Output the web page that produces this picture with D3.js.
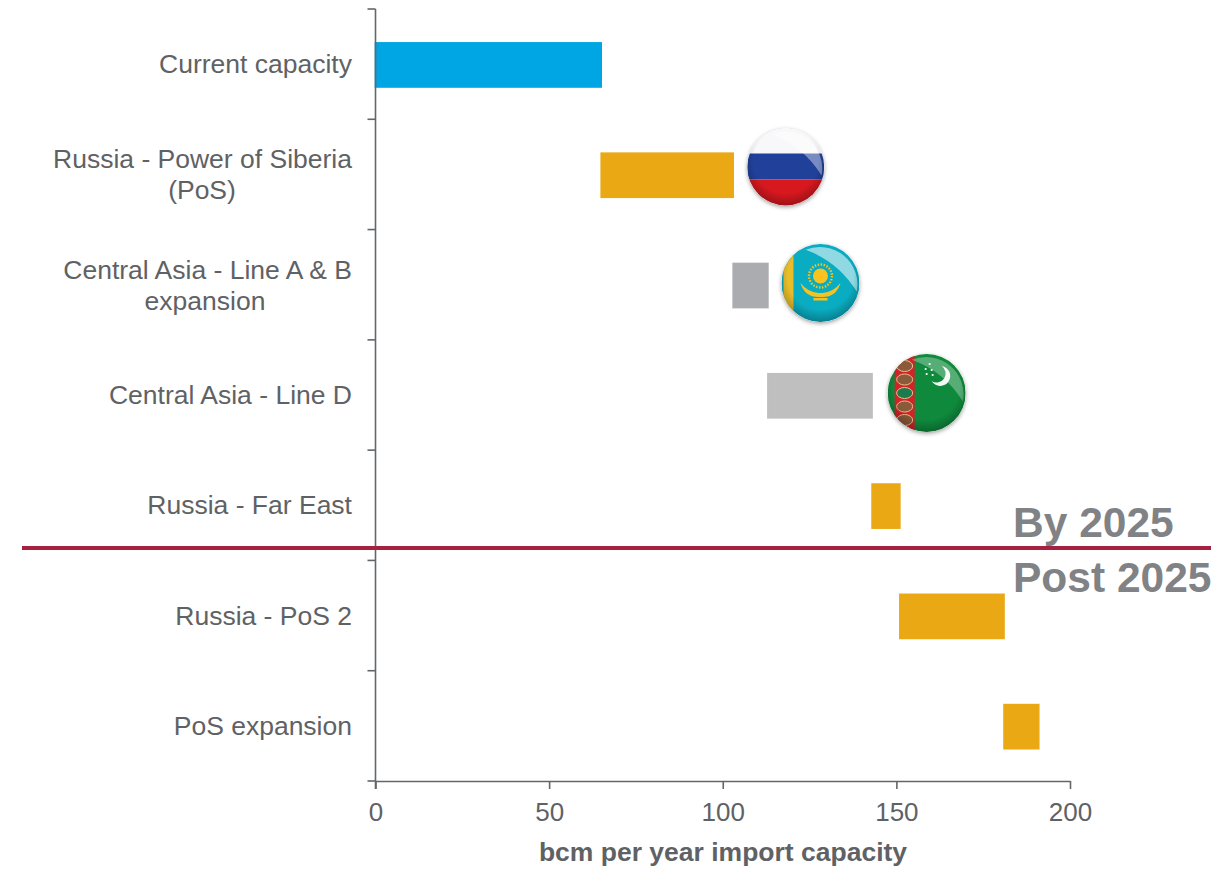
<!DOCTYPE html>
<html>
<head>
<meta charset="utf-8">
<style>
    html, body { margin: 0; padding: 0; background: #fff; }
    text { font-family: "Liberation Sans", Arial, sans-serif; }
</style>
</head>
<body>
<div id="chart"></div>
<script src="https://d3js.org/d3.v7.min.js"></script>
<script>
    const categories = [
        "Current capacity",
        "Russia - Power of Siberia (PoS)",
        "Central Asia - Line A & B expansion",
        "Central Asia - Line D",
        "Russia - Far East",
        "Russia - PoS 2",
        "PoS expansion"
    ];
    const labelLines = [
        ["Current capacity"],
        ["Russia - Power of Siberia", "(PoS)"],
        ["Central Asia - Line A & B", "expansion"],
        ["Central Asia - Line D"],
        ["Russia - Far East"],
        ["Russia - PoS 2"],
        ["PoS expansion"]
    ];
    const barStart = [0, 65, 103, 113, 143, 151, 181];
    const barEnd = [65, 103, 113, 143, 151, 181, 191];
    const barColors = ["#00a5e3", "#eaa914", "#abacb0", "#bfbfbf", "#eaa914", "#eaa914", "#eaa914"];
    const xTicks = [0, 50, 100, 150, 200];

    const width = 1217;
    const height = 873;
    const textGrey = "#5f6265";

    const svg = d3.select("#chart").append("svg")
        .attr("width", width)
        .attr("height", height)
        .style("display", "block");

    const x = d3.scaleLinear().domain([0, 200]).range([375.5, 1070]);
    const y = d3.scaleBand().domain(categories).range([9, 781]).paddingInner(0.6).paddingOuter(0.3);
    const bandStep = y.step();

    // bars
    svg.append("g").attr("transform", "translate(0,0.8)").selectAll("rect")
        .data(categories)
        .join("rect")
        .attr("x", (d, i) => x(barStart[i]))
        .attr("y", d => y(d))
        .attr("width", (d, i) => x(barEnd[i]) - x(barStart[i]))
        .attr("height", y.bandwidth())
        .attr("fill", (d, i) => barColors[i])
        .attr("stroke", (d, i) => barColors[i])
        .attr("stroke-width", 1.6);

    // y axis, ticks sit between the categories
    const yEdges = d3.range(categories.length + 1).map(i => 9 + i * bandStep);
    const axisColor = "#63666a";
    svg.append("line").attr("x1", x(0)).attr("x2", x(0)).attr("y1", 9).attr("y2", 789)
        .attr("stroke", axisColor).attr("stroke-width", 1.6);
    svg.append("g").selectAll("line").data(yEdges).join("line")
        .attr("x1", x(0) - 8).attr("x2", x(0))
        .attr("y1", d => d).attr("y2", d => d)
        .attr("stroke", axisColor).attr("stroke-width", 1.6);

    // x axis
    const xAxis = svg.append("g")
        .attr("transform", "translate(0,781)")
        .call(d3.axisBottom(x).tickValues(xTicks).tickSize(8).tickSizeOuter(0).tickPadding(14));
    xAxis.select(".domain").attr("stroke", axisColor).attr("stroke-width", 1.6);
    xAxis.selectAll(".tick line").attr("stroke", axisColor).attr("stroke-width", 1.6);
    xAxis.selectAll("text")
        .attr("fill", textGrey)
        .style("font-size", "26px")
        .style("font-family", '"Liberation Sans", Arial, sans-serif');

    // category labels
    const labels = svg.append("g").selectAll("text")
        .data(categories)
        .join("text")
        .attr("fill", textGrey)
        .attr("font-size", 26.5)
        .attr("text-anchor", "middle");
    labels.each(function (d, i) {
        const lines = labelLines[i];
        const cy = y(d) + y.bandwidth() / 2;
        const sel = d3.select(this);
        lines.forEach((line, j) => {
            const ts = sel.append("tspan").text(line);
            if (lines.length === 1) {
                ts.attr("x", 352).attr("y", cy + 9).attr("text-anchor", "end");
            } else if (j === 0) {
                ts.attr("x", 352).attr("y", cy - 6).attr("text-anchor", "end");
            } else {
                ts.attr("x", i === 1 ? 202 : 205).attr("y", cy + 25).attr("text-anchor", "middle");
            }
        });
    });

    svg.append("text").attr("x", 723).attr("y", 861)
        .attr("text-anchor", "middle")
        .attr("font-size", 26.5).attr("font-weight", "bold").attr("fill", textGrey)
        .text("bcm per year import capacity");

    // 2025 divider
    svg.append("line").attr("x1", 22).attr("x2", 1211).attr("y1", 548).attr("y2", 548)
        .attr("stroke", "#a6213f").attr("stroke-width", 4);
    svg.append("text").attr("x", 1013).attr("y", 537)
        .attr("font-size", 42.5).attr("font-weight", "bold").attr("fill", "#808285")
        .text("By 2025");
    svg.append("text").attr("x", 1013).attr("y", 592)
        .attr("font-size", 42.5).attr("font-weight", "bold").attr("fill", "#808285")
        .text("Post 2025");

    // flag badges
    const defs = svg.append("defs");
    const shadow = defs.append("filter").attr("id", "badgeShadow")
        .attr("x", "-20%").attr("y", "-20%").attr("width", "140%").attr("height", "140%");
    shadow.append("feDropShadow").attr("dx", 0).attr("dy", 1.5).attr("stdDeviation", 2.2)
        .attr("flood-color", "#000").attr("flood-opacity", 0.4);

    const shade = defs.append("radialGradient").attr("id", "badgeShade")
        .attr("cx", "50%").attr("cy", "42%").attr("r", "60%");
    shade.append("stop").attr("offset", "70%").attr("stop-color", "#000").attr("stop-opacity", 0);
    shade.append("stop").attr("offset", "100%").attr("stop-color", "#000").attr("stop-opacity", 0.3);

    function badge(cx, cy, r, id, drawFlag) {
        defs.append("clipPath").attr("id", id).append("circle").attr("r", r);
        const g = svg.append("g").attr("transform", `translate(${cx},${cy})`);
        g.append("circle").attr("r", r).attr("fill", "#fff").attr("filter", "url(#badgeShadow)");
        const inner = g.append("g").attr("clip-path", `url(#${id})`);
        drawFlag(inner, r);
        inner.append("circle").attr("r", r).attr("fill", "url(#badgeShade)");
    }

    function gloss(inner, r, opacity) {
        inner.append("path")
            .attr("d", `M${-r * 0.38},${-r * 0.85} Q${r * 0.45},${-r * 0.55} ${r * 0.93},${r * 0.22} A${r * 0.96},${r * 0.96} 0 0 0 ${-r * 0.38},${-r * 0.85} Z`)
            .attr("fill", "#fff").attr("opacity", opacity);
    }

    // Russia
    badge(x(118) + 0.5, 167, 38.5, "clipRu", (g, r) => {
        g.append("rect").attr("x", -r).attr("y", -r).attr("width", 2 * r).attr("height", 27).attr("fill", "#f8f8fa");
        g.append("rect").attr("x", -r).attr("y", -r + 25).attr("width", 2 * r).attr("height", 26).attr("fill", "#21409a");
        g.append("rect").attr("x", -r).attr("y", -r + 51).attr("width", 2 * r).attr("height", 27).attr("fill", "#d8181f");
        gloss(g, r, 0.4);
    });

    // Kazakhstan
    badge(x(128) + 0.5, 283, 39, "clipKz", (g, r) => {
        g.append("rect").attr("x", -r).attr("y", -r).attr("width", 2 * r).attr("height", 2 * r).attr("fill", "#0aacc1");
        g.append("rect").attr("x", -r + 2).attr("y", -r).attr("width", 10).attr("height", 2 * r).attr("fill", "#e9bd2a");
        g.append("circle").attr("r", 7.5).attr("cy", -7).attr("fill", "#f9c31f");
        g.append("circle").attr("r", 11.5).attr("cy", -7).attr("fill", "none")
            .attr("stroke", "#f9c31f").attr("stroke-width", 2.4).attr("stroke-dasharray", "1.5 1.5");
        g.append("path").attr("d", "M-20,0 Q-16,14 -2,14 L2,14 Q16,14 20,0 Q13,9 2,10 L-2,10 Q-13,9 -20,0Z").attr("fill", "#f3c324");
        g.append("rect").attr("x", -7).attr("y", 15).attr("width", 14).attr("height", 2.5).attr("fill", "#f3c324");
        gloss(g, r, 0.55);
    });

    // Turkmenistan
    badge(x(158) + 2.5, 393, 39, "clipTm", (g, r) => {
        g.append("rect").attr("x", -r).attr("y", -r).attr("width", 2 * r).attr("height", 2 * r).attr("fill", "#0f8a3c");
        g.append("rect").attr("x", -r + 7).attr("y", -r).attr("width", 20).attr("height", 2 * r).attr("fill", "#d2232a");
        [-27, -13.5, 0, 13.5, 27].forEach((dy, i) => {
            g.append("ellipse").attr("cx", -r + 17).attr("cy", dy).attr("rx", 8).attr("ry", 5.5)
                .attr("fill", i === 2 ? "#1c7a4c" : "#8a5a3a")
                .attr("stroke", "#e7c08a").attr("stroke-width", 1);
        });
        gloss(g, r, 0.3);
        g.append("path").attr("d", "M15,-27 A10,10 0 1 1 5,-12 A9,9 0 0 0 15,-27Z").attr("fill", "#fff").attr("opacity", 0.95);
        [[3, -29], [-1, -24], [5, -23], [0, -19], [6, -18]].forEach(p => {
            g.append("circle").attr("cx", p[0]).attr("cy", p[1]).attr("r", 1.1).attr("fill", "#fff");
        });
    });
</script>
</body>
</html>
